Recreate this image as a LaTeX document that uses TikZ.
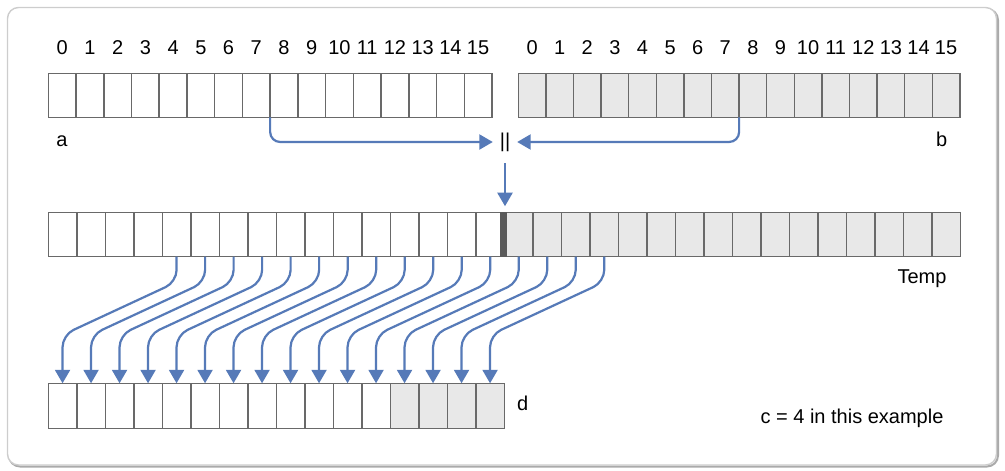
\documentclass[tikz,border=0pt]{standalone}
\usepackage{fontspec}
\setmainfont{Liberation Sans}
\usetikzlibrary{arrows.meta}
\definecolor{arrowblue}{RGB}{86,122,184}
\definecolor{cellgray}{RGB}{232,232,232}
\definecolor{cellline}{RGB}{105,105,105}
\definecolor{framegray}{RGB}{205,205,205}
\definecolor{framedark}{RGB}{170,170,170}
\definecolor{darkbar}{RGB}{90,90,90}
\begin{document}
\begin{tikzpicture}[x=1pt,y=-1pt,
  cellbox/.style={draw=cellline, line width=1.5pt, minimum height=44pt, inner sep=0pt, outer sep=0pt},
  lbl/.style={font=\fontsize{20}{24}\selectfont, inner sep=0pt, anchor=base},
  conn/.style={draw=arrowblue, line width=2.2pt, -{Triangle[width=15pt,length=13.5pt]}},
]
\useasboundingbox (0,0) rectangle (1005,471);
% frame
\draw[line width=2pt, draw=framedark, rounded corners=11pt] (9,9) rectangle (998,466.5);
\draw[line width=1.4pt, draw=framegray, fill=white, rounded corners=11pt] (7.5,7.5) rectangle (996.5,465);
% row a
\foreach \i in {0,...,15}{
  \node[cellbox, fill=white, minimum width=27.73pt] (a\i) at ({48.3+(\i+0.5)*27.73}, 95.3) {};
  \node[lbl] (na\i) at ({48.3+(\i+0.5)*27.73}, 54.8) {\i};
}
% row b
\foreach \i in {0,...,15}{
  \node[cellbox, fill=cellgray, minimum width=27.6pt] (b\i) at ({518.3+(\i+0.5)*27.6}, 95.3) {};
  \node[lbl] (nb\i) at ({518.3+(\i+0.5)*27.6}, 54.8) {\i};
}
% Temp
\foreach \i in {0,...,15}{
  \node[cellbox, fill=white, minimum width=28.51pt] (t\i) at ({48.3+(\i+0.5)*28.51}, 234.7) {};
}
\foreach \i in {16,...,31}{
  \node[cellbox, fill=cellgray, minimum width=28.51pt] (t\i) at ({48.3+(\i+0.5)*28.51}, 234.7) {};
}
\node[fill=darkbar, minimum width=6.5pt, minimum height=45pt, inner sep=0pt] (sep) at (503.4,234.7) {};
% d
\foreach \i in {0,...,11}{
  \node[cellbox, fill=white, minimum width=28.5pt, minimum height=45.4pt] (d\i) at ({48.3+(\i+0.5)*28.5}, 406) {};
}
\foreach \i in {12,...,15}{
  \node[cellbox, fill=cellgray, minimum width=28.5pt, minimum height=45.4pt] (d\i) at ({48.3+(\i+0.5)*28.5}, 406) {};
}
% concat symbol
\node[lbl, anchor=center, minimum width=24pt, minimum height=42pt] (bar) at (505,142) {||};
\draw[conn, rounded corners=10pt] (a7.south east) |- (bar.west);
\draw[conn, rounded corners=10pt] (b7.south east) |- (bar.east);
\draw[conn, shorten >=6.5pt] (bar.south) -- (bar.south |- t16.north);
% shift arrows
\foreach \i [evaluate=\i as \j using int(\i+4)] in {0,...,15}{
  \draw[conn, rounded corners=12pt] (t\j.south) -- ++(0,25.3) -- ([yshift=48.3pt]d\i.north) -- (d\i.north);
}
% labels
\node[lbl] (la) at (62,146.7) {a};
\node[lbl] (lb) at (941.7,146.7) {b};
\node[lbl] (ltemp) at (922,283.6) {Temp};
\node[lbl] (ld) at (522.7,410.7) {d};
\node[lbl] (lc) at (852,423.3) {c = 4 in this example};
\end{tikzpicture}
\end{document}
